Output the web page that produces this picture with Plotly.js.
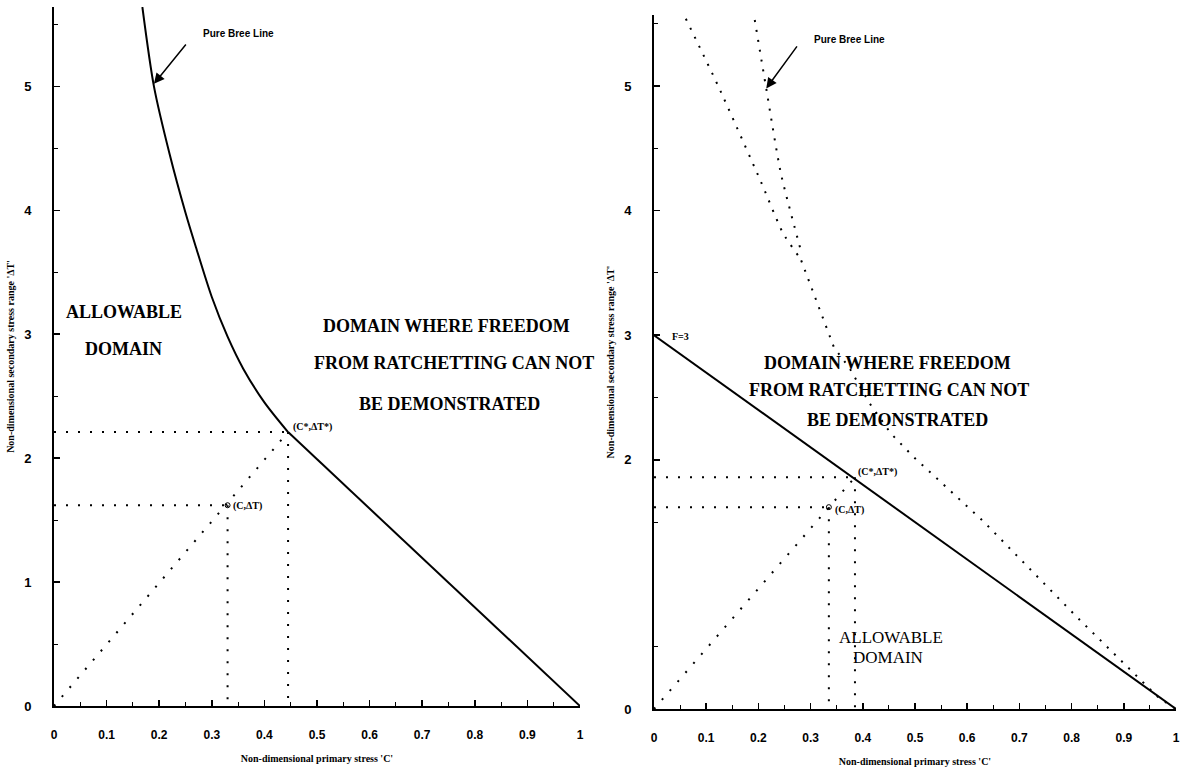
<!DOCTYPE html>
<html><head><meta charset="utf-8">
<script src="https://cdn.plot.ly/plotly-3.0.1.min.js"></script>
<style>html,body{margin:0;padding:0;background:#fff}#chart{width:1187px;height:770px}</style>
</head><body><div id="chart"></div>
<script>
// ---------- data ----------
const xTickVals = [0, 0.1, 0.2, 0.3, 0.4, 0.5, 0.6, 0.7, 0.8, 0.9, 1];
const xTickText = ['0', '0.1', '0.2', '0.3', '0.4', '0.5', '0.6', '0.7', '0.8', '0.9', '1'];
const leftYTickVals = [0, 1, 2, 3, 4, 5];
const leftYTickText = ['0', '1', '2', '3', '4', '5'];
const rightYTickVals = [0, 2, 3, 4, 5];
const rightYTickText = ['0', '2', '3', '4', '5'];

// Left panel: pure Bree line (curved part, then straight part to C=1)
const leftBreeCurveC  = [0.168, 0.19, 0.22, 0.25, 0.27, 0.30, 0.33, 0.36, 0.40, 0.445];
const leftBreeCurveDT = [5.64, 5.0, 4.45, 3.98, 3.70, 3.30, 2.98, 2.72, 2.45, 2.21];
const leftBreeLineC  = [0.445, 1.0];
const leftBreeLineDT = [2.21, 0];
const leftPointC = 0.33, leftPointDT = 1.62;
const leftStarC = 0.445, leftStarDT = 2.21;

// Right panel: F=3 line and Bree curves
const rightF3C  = [0, 1];
const rightF3DT = [3, 0];
const rightCurveAC  = [0.061, 0.123, 0.205, 0.247, 0.276];
const rightCurveADT = [5.54, 5.00, 4.23, 3.82, 3.64];
const rightCurveBC  = [0.193, 0.215, 0.243, 0.282];
const rightCurveBDT = [5.53, 4.98, 4.30, 3.67];
const rightCommonC  = [0.282, 0.345, 0.374, 0.412, 0.454, 0.498, 0.573, 0.630, 0.812, 0.967, 1.0];
const rightCommonDT = [3.60, 2.90, 2.74, 2.46, 2.21, 2.02, 1.73, 1.51, 0.73, 0.09, 0];
const rightPointC = 0.335, rightPointDT = 1.62;
const rightStarC = 0.385, rightStarDT = 1.86;

// ---------- styles ----------
const solid = {color: '#000', width: 2};
const solidSpline = {color: '#000', width: 2, shape: 'spline', smoothing: 0.8};
const dotted = {color: '#000', width: 2, dash: '2px,10px'};
const dotted2 = {color: '#000', width: 2, dash: '2px,8px'};
const dotted2s = {color: '#000', width: 2, dash: '2px,8px', shape: 'spline', smoothing: 0.6};
const serif = 'Liberation Serif, Times New Roman, serif';
const sans = 'Liberation Sans, Arial, sans-serif';

function ln(x, y, line, xa, ya) {
  return {x: x, y: y, mode: 'lines', line: line, xaxis: xa, yaxis: ya, hoverinfo: 'skip', cliponaxis: false};
}

const traces = [
  // left
  ln(leftBreeCurveC, leftBreeCurveDT, solidSpline, 'x', 'y'),
  ln(leftBreeLineC, leftBreeLineDT, solid, 'x', 'y'),
  ln([0, leftStarC], [leftStarDT, leftStarDT], dotted, 'x', 'y'),
  ln([leftStarC, leftStarC], [leftStarDT, 0], dotted, 'x', 'y'),
  ln([0, leftPointC], [leftPointDT, leftPointDT], dotted, 'x', 'y'),
  ln([leftPointC, leftPointC], [leftPointDT, 0], dotted, 'x', 'y'),
  ln([0, leftStarC], [0, leftStarDT], dotted, 'x', 'y'),
  {x: [leftPointC], y: [leftPointDT], mode: 'markers', xaxis: 'x', yaxis: 'y',
   marker: {symbol: 'circle-open', size: 5, color: '#000', line: {width: 1}}, hoverinfo: 'skip'},
  // right
  ln(rightF3C, rightF3DT, solid, 'x2', 'y2'),
  ln(rightCurveAC, rightCurveADT, dotted2s, 'x2', 'y2'),
  ln(rightCurveBC, rightCurveBDT, dotted2s, 'x2', 'y2'),
  ln(rightCommonC, rightCommonDT, dotted2, 'x2', 'y2'),
  ln([0, rightStarC], [rightStarDT, rightStarDT], dotted, 'x2', 'y2'),
  ln([rightStarC, rightStarC], [rightStarDT, 0], dotted, 'x2', 'y2'),
  ln([0, rightPointC], [rightPointDT, rightPointDT], dotted, 'x2', 'y2'),
  ln([rightPointC, rightPointC], [rightPointDT, 0], dotted, 'x2', 'y2'),
  ln([0, rightStarC], [0, rightStarDT], dotted, 'x2', 'y2'),
  {x: [rightPointC], y: [rightPointDT], mode: 'markers', xaxis: 'x2', yaxis: 'y2',
   marker: {symbol: 'circle-open', size: 5, color: '#000', line: {width: 1}}, hoverinfo: 'skip'}
];

const W = 1187, H = 770;
function xaxisCfg(d0, d1, anchor) {
  return {
    domain: [d0 / W, d1 / W], range: [0, 1], anchor: anchor,
    showline: true, linewidth: 2, linecolor: '#000', showgrid: false, zeroline: false,
    ticks: 'inside', ticklen: 6, tickwidth: 1.5, tickcolor: '#000',
    tickvals: xTickVals, ticktext: xTickText, ticklabelstandoff: 17,
    minor: {tickvals: [0.05, 0.15, 0.25, 0.35, 0.45, 0.55, 0.65, 0.75, 0.85, 0.95], ticks: 'inside', ticklen: 4, tickwidth: 1, tickcolor: '#000'},
    tickfont: {family: sans, size: 12, color: '#000', weight: 'bold'},
    title: {text: "Non-dimensional primary stress 'C'", font: {family: serif, size: 10, color: '#000', weight: 'bold'}, standoff: 14},
    automargin: false
  };
}
function yaxisCfg(bottomPx, topPx, top, vals, txt, anchor) {
  return {
    domain: [(H - bottomPx) / H, (H - topPx) / H], range: [0, top], anchor: anchor,
    showline: true, linewidth: 2, linecolor: '#000', showgrid: false, zeroline: false,
    ticks: 'inside', ticklen: 6, tickwidth: 1.5, tickcolor: '#000',
    tickvals: vals, ticktext: txt, ticklabelstandoff: 18,
    minor: {tickvals: [0.5, 1.5, 2.5, 3.5, 4.5, 5.5], ticks: 'inside', ticklen: 4, tickwidth: 1, tickcolor: '#000'},
    tickfont: {family: sans, size: 13, color: '#000', weight: 'bold'},
    title: {text: "Non-dimensional secondary stress range '\u0394T'", font: {family: serif, size: 10, color: '#000', weight: 'bold'}, standoff: 8},
    automargin: false
  };
}

function txt(text, x, y, xa, ya, font, extra) {
  return Object.assign({text: text, x: x, y: y, xref: xa, yref: ya, showarrow: false, font: font}, extra || {});
}
const bigBold = {family: serif, size: 18, color: '#000', weight: 'bold'};
const bigReg = {family: serif, size: 17, color: '#000'};
const small = {family: serif, size: 10, color: '#000', weight: 'bold'};
const tiny = {family: sans, size: 10, color: '#000', weight: 'bold'};

const annotations = [
  // left panel
  txt('ALLOWABLE', 0.133, 3.18, 'x', 'y', bigBold),
  txt('DOMAIN', 0.133, 2.88, 'x', 'y', bigBold),
  txt('DOMAIN WHERE FREEDOM', 0.747, 3.07, 'x', 'y', bigBold),
  txt('FROM RATCHETTING CAN NOT', 0.76, 2.77, 'x', 'y', bigBold),
  txt('BE DEMONSTRATED', 0.752, 2.44, 'x', 'y', bigBold),
  txt('Pure Bree Line', 0.35, 5.43, 'x', 'y', tiny),
  {x: 0.19, y: 5.02, ax: 0.253, ay: 5.35, xref: 'x', yref: 'y', axref: 'x', ayref: 'y', text: '',
   showarrow: true, arrowhead: 2, arrowsize: 1.4, arrowwidth: 1.5, arrowcolor: '#000'},
  txt('(C*,\u0394T*)', leftStarC + 0.005, leftStarDT + 0.04, 'x', 'y', small, {xanchor: 'left'}),
  txt('(C,\u0394T)', leftPointC + 0.007, leftPointDT - 0.01, 'x', 'y', small, {xanchor: 'left'}),
  // right panel
  txt('DOMAIN WHERE FREEDOM', 0.448, 2.78, 'x2', 'y2', bigBold),
  txt('FROM RATCHETTING CAN NOT', 0.45, 2.56, 'x2', 'y2', bigBold),
  txt('BE DEMONSTRATED', 0.467, 2.32, 'x2', 'y2', bigBold),
  txt('ALLOWABLE', 0.454, 0.57, 'x2', 'y2', bigReg),
  txt('DOMAIN', 0.448, 0.41, 'x2', 'y2', bigReg),
  txt('Pure Bree Line', 0.374, 5.37, 'x2', 'y2', tiny),
  {x: 0.215, y: 4.98, ax: 0.276, ay: 5.33, xref: 'x2', yref: 'y2', axref: 'x2', ayref: 'y2', text: '',
   showarrow: true, arrowhead: 2, arrowsize: 1.4, arrowwidth: 1.5, arrowcolor: '#000'},
  txt('F=3', 0.03, 2.99, 'x2', 'y2', small, {xanchor: 'left'}),
  txt('(C*,\u0394T*)', rightStarC + 0.002, rightStarDT + 0.04, 'x2', 'y2', small, {xanchor: 'left'}),
  txt('(C,\u0394T)', rightPointC + 0.007, rightPointDT - 0.02, 'x2', 'y2', small, {xanchor: 'left'})
];

const layout = {
  width: W, height: H,
  margin: {l: 0, r: 0, t: 0, b: 0},
  paper_bgcolor: '#fff', plot_bgcolor: '#fff',
  showlegend: false,
  xaxis: xaxisCfg(54, 580, 'y'),
  yaxis: yaxisCfg(706, 7, 5.64, leftYTickVals, leftYTickText, 'x'),
  xaxis2: xaxisCfg(654, 1176, 'y2'),
  yaxis2: yaxisCfg(709, 15, 5.57, rightYTickVals, rightYTickText, 'x2'),
  annotations: annotations
};

Plotly.newPlot('chart', traces, layout, {staticPlot: true, displayModeBar: false});
</script>
</body></html>
